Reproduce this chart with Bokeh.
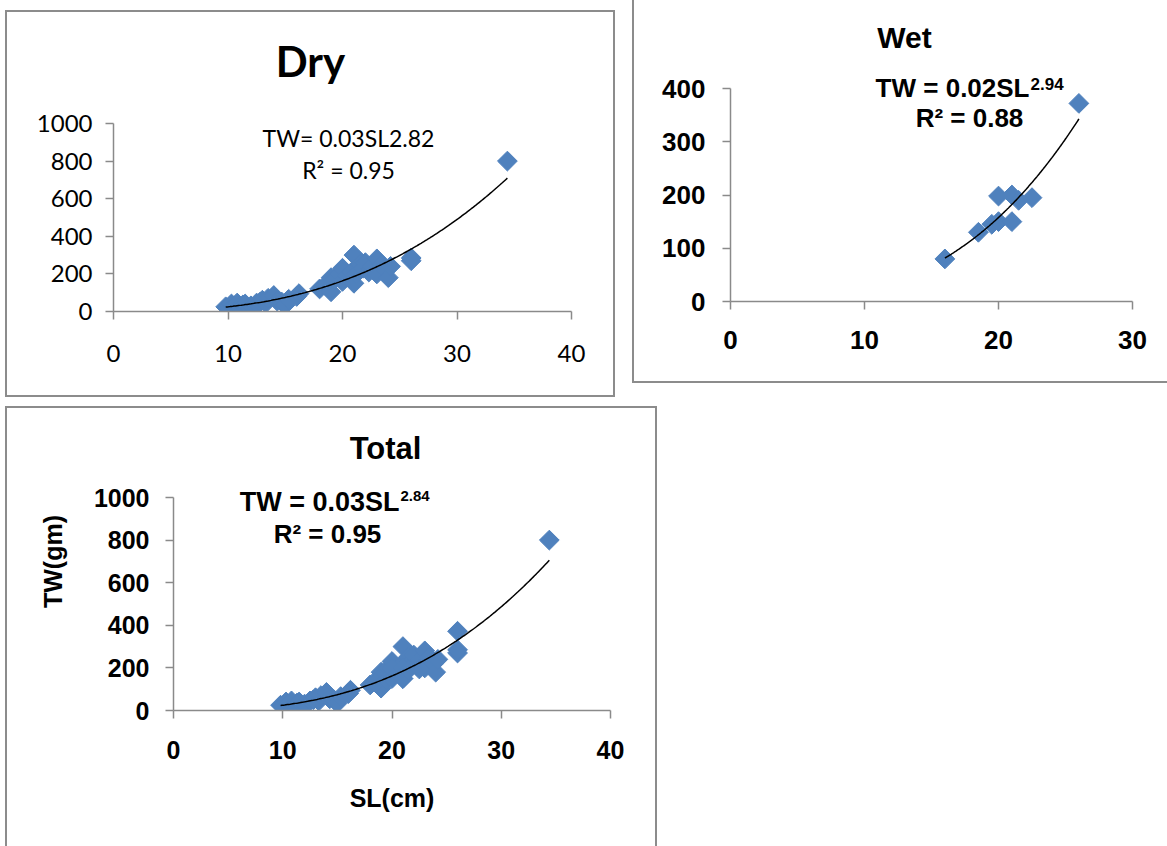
import numpy as np
from bokeh.plotting import figure
from bokeh.models import Range1d, Label, FixedTicker, Spacer
from bokeh.layouts import row, column
from bokeh.embed import file_html
from bokeh.resources import INLINE

# ---------------- data ----------------
dry_sl = [9.8, 10.0, 10.3, 10.5, 10.8, 11.0, 11.3, 11.5, 12.0, 12.5, 12.8, 13.0, 13.3, 13.5,
          14.0, 14.3, 14.7, 15.0, 15.3, 16.0, 16.2,
          18.0, 18.5, 19.0, 19.0, 19.3, 19.7, 20.0, 20.0, 20.4, 20.8, 21.0, 21.0, 21.2, 21.5,
          21.8, 22.0, 22.3, 22.6, 23.0, 23.0, 23.4, 23.8, 24.0, 24.2, 26.0, 26.0, 34.4]
dry_tw = [25, 20, 40, 30, 45, 25, 35, 40, 30, 45, 50, 60, 45, 70,
          85, 55, 50, 35, 65, 80, 95,
          120, 140, 105, 180, 170, 200, 230, 160, 190, 210, 300, 150, 200, 250,
          230, 260, 210, 240, 280, 200, 250, 220, 180, 240, 270, 285, 800]

wet_sl = [16.0, 18.5, 19.5, 20.0, 20.0, 21.0, 21.0, 21.5, 22.5, 26.0]
wet_tw = [80, 130, 145, 150, 198, 150, 200, 190, 195, 372]

dry_xticks = [0, 10, 20, 30, 40]
dry_yticks = [0, 200, 400, 600, 800, 1000]
wet_xticks = [0, 10, 20, 30]
wet_yticks = [0, 100, 200, 300, 400]
tot_xticks = [0, 10, 20, 30, 40]
tot_yticks = [0, 200, 400, 600, 800, 1000]

tot_sl = dry_sl + wet_sl
tot_tw = dry_tw + wet_tw

BLUE = "#4F81BD"
AXIS = "#8a8a8a"
PANEL = "#8c8c8c"


def power_fit(x, y):
    x = np.asarray(x, float)
    y = np.asarray(y, float)
    b, lna = np.polyfit(np.log(x), np.log(y), 1)
    xs = np.linspace(x.min(), x.max(), 200)
    return xs, np.exp(lna) * xs ** b


def make_panel(cx, cy, w, h, bl, bt, fx0, fx1, fyt, fyb, ftop, xr, yr, xt, yt,
               font, fsize, fstyle, border):
    left = fx0 - cx - bl
    right = w - left - (fx1 - fx0)
    top = ftop - cy - bt
    bottom = h - top - (fyb - ftop)
    ytop = yr[0] + (yr[1] - yr[0]) * (fyb - ftop) / (fyb - fyt)
    p = figure(width=w, height=h, x_range=Range1d(*xr), y_range=Range1d(yr[0], ytop),
               output_backend="svg", toolbar_location=None,
               min_border_left=left, min_border_right=right,
               min_border_top=top, min_border_bottom=bottom,
               background_fill_color="white", border_fill_color="white")
    p.outline_line_color = None
    p.grid.visible = False
    p.xaxis.ticker = FixedTicker(ticks=xt)
    p.yaxis.ticker = FixedTicker(ticks=yt)
    p.yaxis.bounds = yr
    for ax in (p.xaxis, p.yaxis):
        ax.axis_line_color = AXIS
        ax.axis_line_width = 1.5
        ax.major_tick_line_color = AXIS
        ax.major_tick_line_width = 1.5
        ax.major_tick_out = 8
        ax.major_tick_in = 0
        ax.minor_tick_line_color = None
        ax.major_label_text_font = font
        ax.major_label_text_font_size = fsize
        ax.major_label_text_font_style = fstyle
        ax.major_label_text_color = "black"
    p.styles = border
    geom = (fx0, fx1, fyt, fyb, xr, yr)
    return p, geom


def to_data(px, py, fx0, fx1, fyt, fyb, xr, yr):
    dx = xr[0] + (px - fx0) / (fx1 - fx0) * (xr[1] - xr[0])
    dy = yr[0] + (fyb - py) / (fyb - fyt) * (yr[1] - yr[0])
    return dx, dy


def add_label(p, geom, px, py, text, font, size, style, align="center"):
    # py is the desired baseline; compensate for the renderer's baseline handling
    dx, dy = to_data(px, py - 0.38 * size, *geom)
    p.add_layout(Label(x=dx, y=dy, text=text, text_font=font, text_font_size=f"{size}px",
                       text_font_style=style, text_align=align, text_baseline="alphabetic",
                       text_color="black"))


# ---------------- Dry ----------------
dry, dry_geom = make_panel(5, 10, 610, 387, 2, 2, 113, 571, 123, 311, 16,
                           (0, 40), (0, 1000), dry_xticks, dry_yticks,
                           "Lato", "24px", "normal",
                           {"border": f"2px solid {PANEL}"})
dry.xaxis.major_label_standoff = 25
dry.yaxis.major_label_standoff = 13
dry.scatter(dry_sl, dry_tw, marker="square", size=14, angle=np.pi / 4,
            fill_color=BLUE, line_color=BLUE)
xs, ys = power_fit(dry_sl, dry_tw)
dry.line(xs, ys, line_color="black", line_width=1.5)
add_label(dry, dry_geom, 310, 76, "Dry", "Lato", 42, "bold")
add_label(dry, dry_geom, 348, 146, "TW= 0.03SL2.82", "Lato", 23, "normal")
add_label(dry, dry_geom, 348, 178, "R\u00b2 = 0.95", "Lato", 23, "normal")

# ---------------- Wet ----------------
wet, wet_geom = make_panel(632, 0, 535, 383, 2, 0, 730, 1132, 88, 301, 2,
                           (0, 30), (0, 400), wet_xticks, wet_yticks,
                           "Liberation Sans", "26px", "bold",
                           {"border-left": f"2px solid {PANEL}",
                            "border-bottom": f"2px solid {PANEL}"})
wet.xaxis.major_label_standoff = 21
wet.yaxis.major_label_standoff = 17
wet.scatter(wet_sl, wet_tw, marker="square", size=14, angle=np.pi / 4,
            fill_color=BLUE, line_color=BLUE)
xs, ys = power_fit(wet_sl, wet_tw)
wet.line(xs, ys, line_color="black", line_width=1.5)
add_label(wet, wet_geom, 904, 48, "Wet", "Liberation Sans", 30, "bold")
add_label(wet, wet_geom, 1029, 97, "TW = 0.02SL", "Liberation Sans", 26, "bold", "right")
add_label(wet, wet_geom, 1030, 90, "2.94", "Liberation Sans", 17, "bold", "left")
add_label(wet, wet_geom, 969, 127, "R\u00b2 = 0.88", "Liberation Sans", 26, "bold")

# ---------------- Total ----------------
tot, tot_geom = make_panel(5, 406, 652, 440, 2, 2, 173, 610, 497, 710, 412,
                           (0, 40), (0, 1000), tot_xticks, tot_yticks,
                           "Liberation Sans", "25px", "bold",
                           {"border-left": f"2px solid {PANEL}",
                            "border-top": f"2px solid {PANEL}",
                            "border-right": f"2px solid {PANEL}"})
tot.xaxis.major_label_standoff = 22
tot.yaxis.major_label_standoff = 16
tot.xaxis.axis_label = "SL(cm)"
tot.yaxis.axis_label = "TW(gm)"
for ax in (tot.xaxis, tot.yaxis):
    ax.axis_label_text_font = "Liberation Sans"
    ax.axis_label_text_font_size = "25px"
    ax.axis_label_text_font_style = "bold"
    ax.axis_label_text_color = "black"
tot.xaxis.axis_label_standoff = 22
tot.yaxis.axis_label_standoff = 24
tot.scatter(tot_sl, tot_tw, marker="square", size=14, angle=np.pi / 4,
            fill_color=BLUE, line_color=BLUE)
xs, ys = power_fit(tot_sl, tot_tw)
tot.line(xs, ys, line_color="black", line_width=1.5)
add_label(tot, tot_geom, 385, 460, "Total", "Liberation Sans", 31, "bold")
add_label(tot, tot_geom, 399, 512, "TW = 0.03SL", "Liberation Sans", 27, "bold", "right")
add_label(tot, tot_geom, 400, 501, "2.84", "Liberation Sans", 15, "bold", "left")
add_label(tot, tot_geom, 327, 543, "R\u00b2 = 0.95", "Liberation Sans", 26, "bold")

layout = column(
    row(Spacer(width=5, height=397),
        column(Spacer(width=610, height=10), dry),
        Spacer(width=17, height=383),
        wet),
    Spacer(width=1167, height=9),
    row(Spacer(width=5, height=440), tot),
)

open("out.html", "w").write(file_html(layout, INLINE))
